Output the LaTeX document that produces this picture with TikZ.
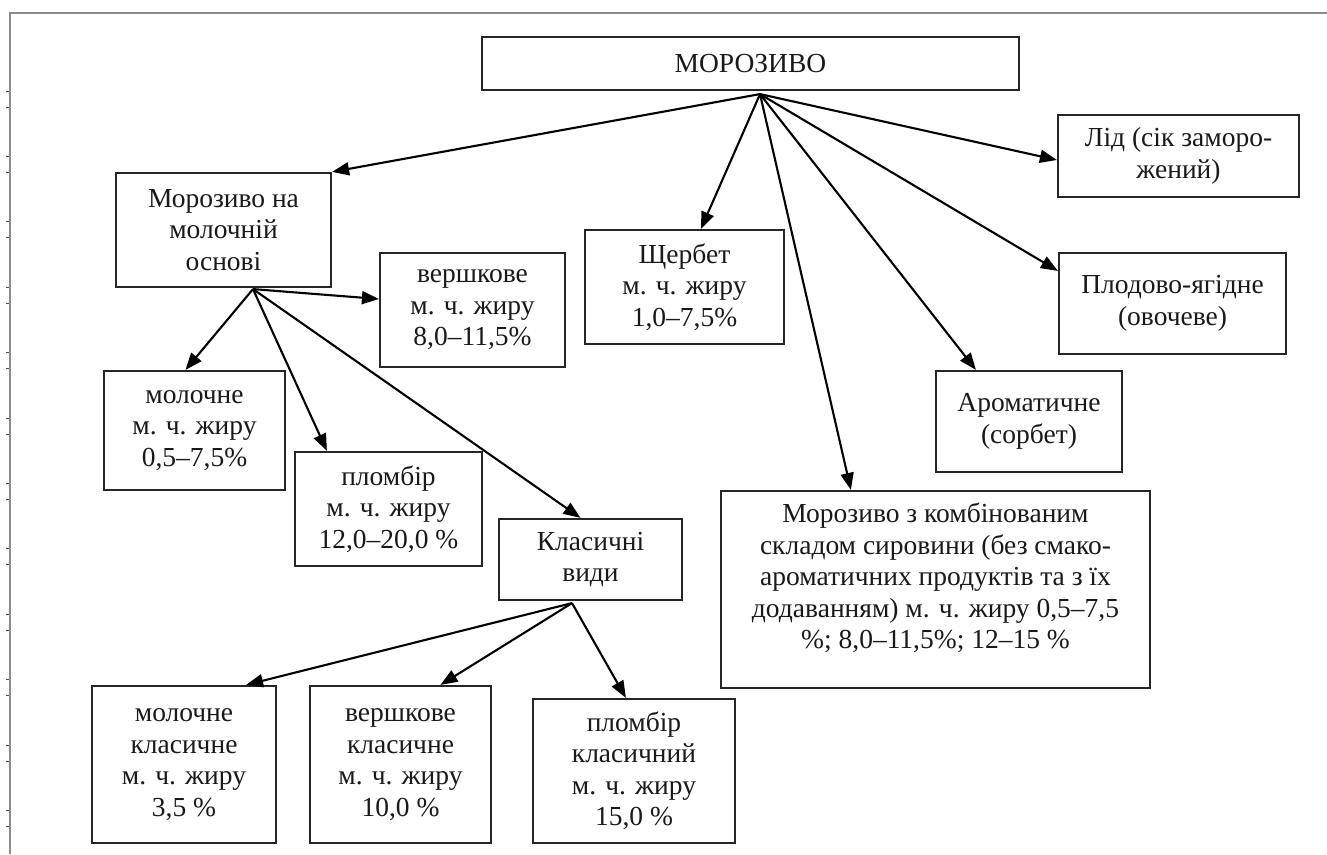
\documentclass[tikz,border=0pt]{standalone}
\usepackage{fontspec}
\setmainfont{Liberation Serif}
\usetikzlibrary{arrows.meta,calc}
\definecolor{boxcol}{gray}{0.15}
\definecolor{framecol}{gray}{0.55}
\tikzset{
  box/.style={draw=boxcol, line width=2.2pt, align=center, inner sep=0pt,
    font=\fontsize{27.5}{31.5}\selectfont, text=black!90},
  arr/.style={line width=2.1pt, draw=black, -{Triangle[length=17pt,width=13pt]}},
  frameline/.style={draw=framecol, line width=1.6pt},
  tick/.style={draw=black!70, line width=0.8pt}
}
\begin{document}
\begin{tikzpicture}[x=1pt,y=-1pt]
\useasboundingbox (0,0) rectangle (1327,854);
% frame
\draw[frameline] (10,854) -- (10,13) -- (1327,13);
\foreach \k in {0,...,11}{
  \draw[tick] (6,{91+65.4*\k}) -- (9,{91+65.4*\k});
  \draw[tick] (6,{107+65.4*\k}) -- (9,{107+65.4*\k});
}
% nodes
\node[box, minimum width=537pt, minimum height=53pt] (top) at (750.5,63.5) {МОРОЗИВО};
\node[box, minimum width=215pt, minimum height=114pt] (osn) at (223.5,230) {Морозиво на\\молочній\\основі};
\node[box, minimum width=185pt, minimum height=114pt] (versh) at (472.5,310) {вершкове\\м. ч. жиру\\8,0–11,5\%};
\node[box, minimum width=199pt, minimum height=114pt] (shch) at (684.5,287) {Щербет\\м. ч. жиру\\1,0–7,5\%};
\node[box, minimum width=241pt, minimum height=82pt] (lid) at (1178.5,156) {Лід (сік заморо-\\жений)};
\node[box, minimum width=227pt, minimum height=101pt] (plod) at (1172.5,303.5) {Плодово-ягідне\\(овочеве)};
\node[box, minimum width=186pt, minimum height=101pt] (arom) at (1029,421.5) {Ароматичне\\(сорбет)};
\node[box, minimum width=181pt, minimum height=119pt] (molo) at (194.5,430.5) {молочне\\м. ч. жиру\\0,5–7,5\%};
\node[box, minimum width=187pt, minimum height=114pt] (plomb) at (388.5,509) {пломбір\\м. ч. жиру\\12,0–20,0 \%};
\node[box, minimum width=183pt, minimum height=81pt] (klas) at (590.5,559.5) {Класичні\\види};
\node[box, minimum width=429pt, minimum height=197pt] (komb) at (935.5,589.5) {Морозиво з комбінованим\\складом сировини (без смако-\\ароматичних продуктів та з їх\\додаванням) м. ч. жиру 0,5–7,5\\\%; 8,0–11,5\%; 12–15 \%\\[-4pt]};
\node[box, minimum width=184pt, minimum height=157pt] (mk) at (184,764.5) {молочне\\класичне\\м. ч. жиру\\3,5 \%};
\node[box, minimum width=181pt, minimum height=157pt] (vk) at (400.5,764.5) {вершкове\\класичне\\м. ч. жиру\\10,0 \%};
\node[box, minimum width=202pt, minimum height=144pt] (pk) at (634,771) {пломбір\\класичний\\м. ч. жиру\\15,0 \%};
% origins
\coordinate (o0) at ($(top.south)+(9.5,3)$);
\coordinate (o1) at ($(osn.south)+(29.5,1)$);
\coordinate (o2) at ($(klas.south)+(-18.5,2)$);
% arrows from top
\draw[arr] (o0) -- (osn.north east);
\draw[arr] (o0) -- ($(shch.north west)+(117,0)$);
\draw[arr] (o0) -- ($(komb.north west)+(131,0)$);
\draw[arr] (o0) -- ($(arom.north west)+(41,0)$);
\draw[arr] (o0) -- ($(plod.north west)+(0,19)$);
\draw[arr] (o0) -- ($(lid.west)+(0,4)$);
% arrows from osn
\draw[arr] (o1) -- ($(versh.west)+(0,-11)$);
\draw[arr] (o1) -- ($(molo.north)+(-9,0)$);
\draw[arr] (o1) -- ($(plomb.north west)+(33,0)$);
\draw[arr] (o1) -- ($(klas.north)+(-10,0)$);
% arrows from klas
\draw[arr] (o2) -- ($(mk.north east)+(-31,0)$);
\draw[arr] (o2) -- ($(vk.north)+(40,0)$);
\draw[arr] (o2) -- ($(pk.north west)+(94,0)$);
\end{tikzpicture}
\end{document}
